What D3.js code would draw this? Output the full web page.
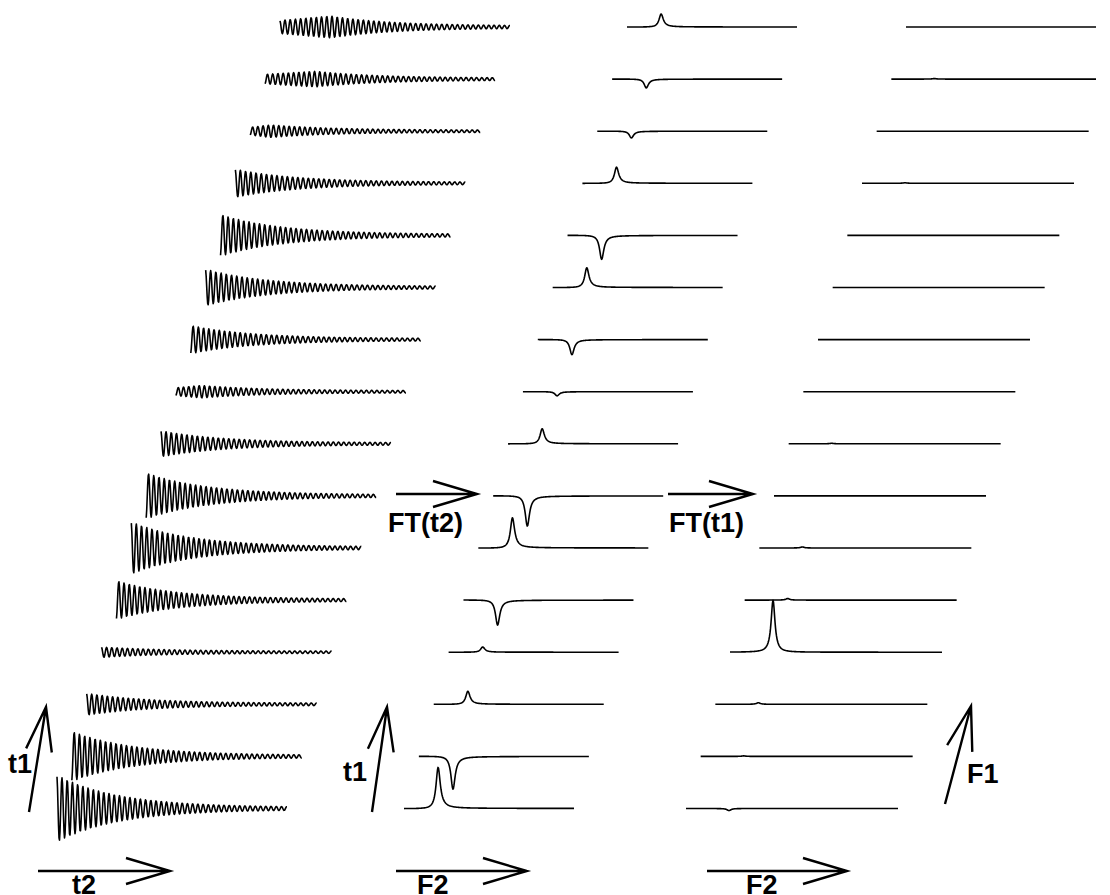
<!DOCTYPE html>
<html>
<head>
<meta charset="utf-8">
<script src="https://cdn.jsdelivr.net/npm/d3@7"></script>
<style>
  body { margin: 0; background: #fff; }
  svg { display: block; background: #fff; }
  .trace { fill: none; stroke: #000; stroke-width: 1.6; stroke-linejoin: round; }
  .arrow { fill: none; stroke: #000; stroke-width: 2.4; stroke-linecap: butt; }
  .lbl { font-family: "Liberation Sans", Arial, Helvetica, sans-serif; font-weight: bold; font-size: 27px; fill: #000; }
</style>
</head>
<body>
<svg id="chart" width="1110" height="895"></svg>
<script>
// one entry per t1 increment, bottom row first
var rows = d3.range(16);

// FID envelope amplitude (sign = phase) and where the envelope tops out (fraction of t2)
var fidAmp = [0.62, -0.46, 0.19, 0.08, -0.35, 0.48, -0.42, 0.23, -0.1, -0.25, 0.33, -0.38, 0.25, -0.1, -0.13, 0.19];
var fidMaxAt = [0, 0, 0, 0, 0, 0, 0, 0, 0.11, 0, 0, 0, 0, 0.09, 0.22, 0.22];
var fidCycles = 44;
var fidDecay = 0.27;
var fidFloor = 0.02;

// F2 spectra after FT(t2): peak height per row
var specAmp = [0.79, -0.63, 0.25, 0.1, -0.48, 0.58, -0.58, 0.29, -0.08, -0.29, 0.38, -0.46, 0.31, -0.13, -0.17, 0.25];
var specPos = 0.2;
var specWidth = 0.015;

// F1 slices after FT(t1)
var f1Amp = [-0.04, 0.01, 0.03, 1.0, 0.03, 0.02, 0, 0.01, 0, 0, 0, 0, 0.01, 0, 0.01, 0];
var f1Pos = 0.203;
var f1Width = 0.011;

var labels = [
  {text: "t1", x: 8, y: 773},
  {text: "t2", x: 72, y: 894},
  {text: "t1", x: 343, y: 781},
  {text: "F2", x: 417, y: 894},
  {text: "F2", x: 746, y: 894},
  {text: "F1", x: 967, y: 783},
  {text: "FT(t2)", x: 388, y: 532},
  {text: "FT(t1)", x: 669, y: 532}
];

var arrows = [
  {from: [29, 812], to: [46, 707]},
  {from: [38, 871], to: [170, 871]},
  {from: [372, 812], to: [387, 707]},
  {from: [396, 871], to: [527, 871]},
  {from: [707, 871], to: [847, 871]},
  {from: [945, 804], to: [971, 706]},
  {from: [396, 494], to: [477, 494]},
  {from: [668, 494], to: [753, 494]}
];

var svg = d3.select("#chart");

// the scanned figure stops a little short of the right edge
svg.append("clipPath").attr("id", "frame")
  .append("rect").attr("x", 0).attr("y", 0).attr("width", 1096).attr("height", 895);

var yRow = d3.scaleLinear().domain([0, 15]).range([808.5, 27]);
var yAmp = d3.scaleLinear().domain([0, 1]).range([0, 52]);

var panels = [
  {start: d3.scaleLinear().domain([0, 15]).range([57, 280]), len: 230, fn: fid},
  {start: d3.scaleLinear().domain([0, 15]).range([404, 627]), len: 170, fn: spec},
  {start: d3.scaleLinear().domain([0, 15]).range([686, 906]), len: 212, fn: f1}
];

function lorentz(x, x0, w) {
  var d = x - x0;
  return w * w / (w * w + d * d);
}

function disp(x, x0, w) {
  var d = x - x0;
  return w * d / (w * w + d * d);
}

function fid(i, t) {
  var d = fidMaxAt[i];
  var env;
  if (t < d) env = 0.55 + 0.45 * t / d;
  else env = Math.exp(-(t - d) / fidDecay);
  var a = fidAmp[i];
  var s = a < 0 ? -1 : 1;
  return (a * env + s * fidFloor) * Math.cos(2 * Math.PI * fidCycles * t + 0.3);
}

function spec(i, x) {
  return specAmp[i] * (lorentz(x, specPos, specWidth) + 0.1 * disp(x, specPos, specWidth));
}

function f1(i, x) {
  return f1Amp[i] * lorentz(x, f1Pos, f1Width);
}

var g = svg.append("g")
  .attr("class", "traces")
  .attr("clip-path", "url(#frame)");

panels.forEach(function(p) {
  rows.forEach(function(i) {
    var x0 = p.start(i);
    var xs = d3.scaleLinear().domain([0, 1]).range([x0, x0 + p.len]);
    var n = p.len * 2;
    var pts = d3.range(n + 1).map(function(k) {
      var t = k / n;
      return [t, p.fn(i, t)];
    });
    var line = d3.line()
      .x(function(d) { return xs(d[0]); })
      .y(function(d) { return yRow(i) - yAmp(d[1]); });
    g.append("path")
      .attr("class", "trace")
      .attr("d", line(pts));
  });
});

// open arrow heads
var headLen = 44;
var headHalf = 13;
var ag = svg.append("g").attr("class", "arrows");
arrows.forEach(function(a) {
  var dx = a.to[0] - a.from[0];
  var dy = a.to[1] - a.from[1];
  var l = Math.sqrt(dx * dx + dy * dy);
  var ux = dx / l, uy = dy / l;
  var bx = a.to[0] - ux * headLen, by = a.to[1] - uy * headLen;
  var h1 = [bx - uy * headHalf, by + ux * headHalf];
  var h2 = [bx + uy * headHalf, by - ux * headHalf];
  ag.append("path")
    .attr("class", "arrow")
    .attr("d", "M" + a.from + "L" + a.to + "M" + h1 + "L" + a.to + "L" + h2);
});

svg.append("g").selectAll("text")
  .data(labels)
  .enter().append("text")
  .attr("class", "lbl")
  .attr("x", function(d) { return d.x; })
  .attr("y", function(d) { return d.y; })
  .text(function(d) { return d.text; });
</script>
</body>
</html>
